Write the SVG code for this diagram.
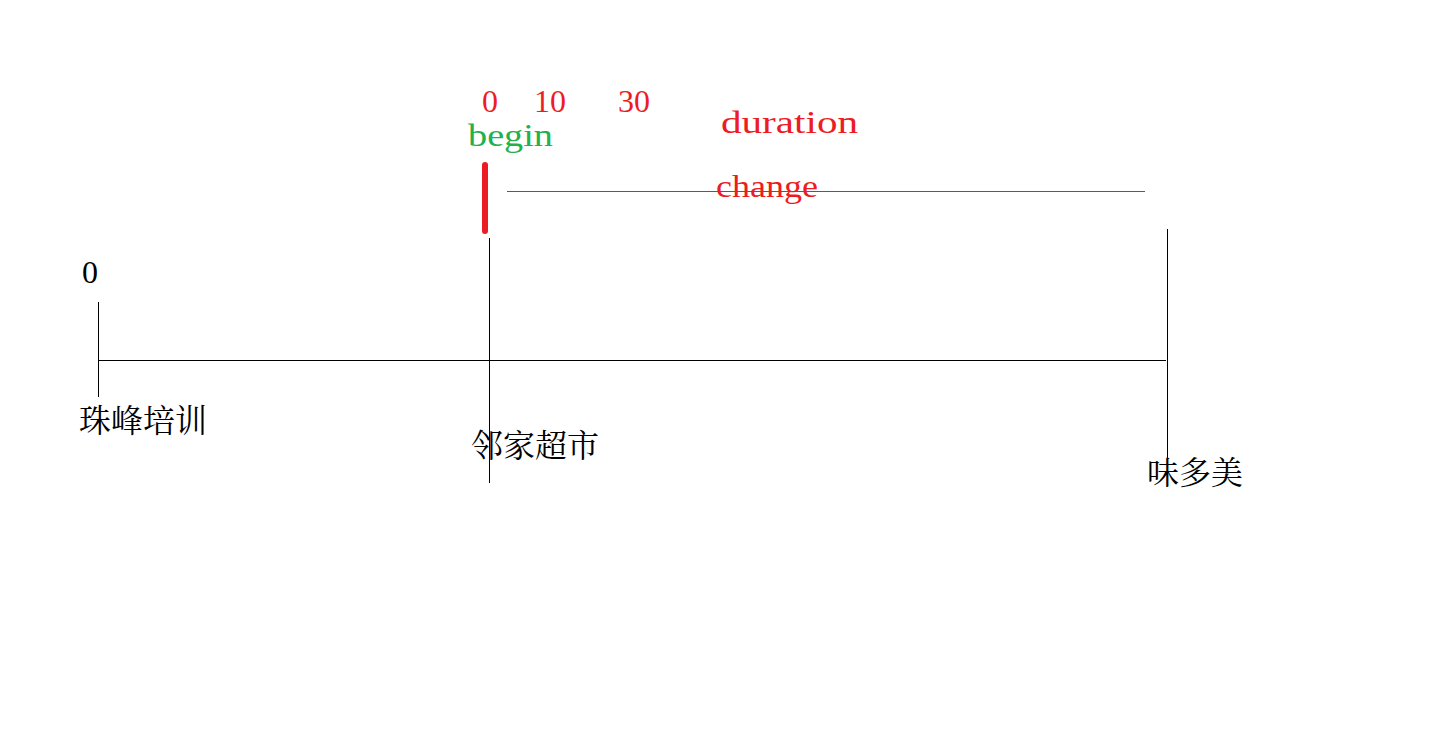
<svg xmlns="http://www.w3.org/2000/svg" width="1442" height="730" viewBox="0 0 1442 730">
<style>
.ln{stroke:#000;stroke-width:1;fill:none;shape-rendering:crispEdges}
.rl{stroke:#ed1c24;stroke-width:1;fill:none}
.lat{font-family:"Liberation Serif",serif;font-size:32px}
.red{fill:#ed1c24}
.grn{fill:#22b14c}
.cjk{font-family:"Noto Serif CJK SC","Noto Sans CJK SC",serif;font-size:32px;fill:#000}
</style>
<rect width="1442" height="730" fill="#fff"/>
<g id="connectors">
<line class="ln" x1="98" y1="360.5" x2="1166" y2="360.5"/>
<line class="rl" x1="507" y1="191.5" x2="1145" y2="191.5"/>
<line x1="485" y1="165" x2="485" y2="231" stroke="#ed1c24" stroke-width="6" stroke-linecap="round"/>
</g>
<g id="node-zhufeng">
<line class="ln" x1="98.5" y1="302" x2="98.5" y2="397"/>
<text class="lat" x="82" y="283" fill="#000">0</text>
<text class="cjk" x="79" y="432">珠峰培训</text>
</g>
<g id="node-linjia">
<line class="ln" x1="489.5" y1="238" x2="489.5" y2="483"/>
<text class="cjk" x="471" y="457">邻家超市</text>
</g>
<g id="node-weiduomei">
<line class="ln" x1="1167.5" y1="229" x2="1167.5" y2="467"/>
<text class="cjk" x="1147" y="484">味多美</text>
</g>
<g id="labels">
<text class="lat red" x="482" y="112">0</text>
<text class="lat red" x="534" y="112">10</text>
<text class="lat red" x="618" y="112">30</text>
<text class="lat grn" x="468" y="146" font-size="28" textLength="85" lengthAdjust="spacingAndGlyphs">begin</text>
<text class="lat red" x="721" y="133" font-size="28" textLength="137" lengthAdjust="spacingAndGlyphs">duration</text>
<text class="lat red" x="716" y="197" font-size="28" textLength="102" lengthAdjust="spacingAndGlyphs">change</text>
</g>
</svg>
